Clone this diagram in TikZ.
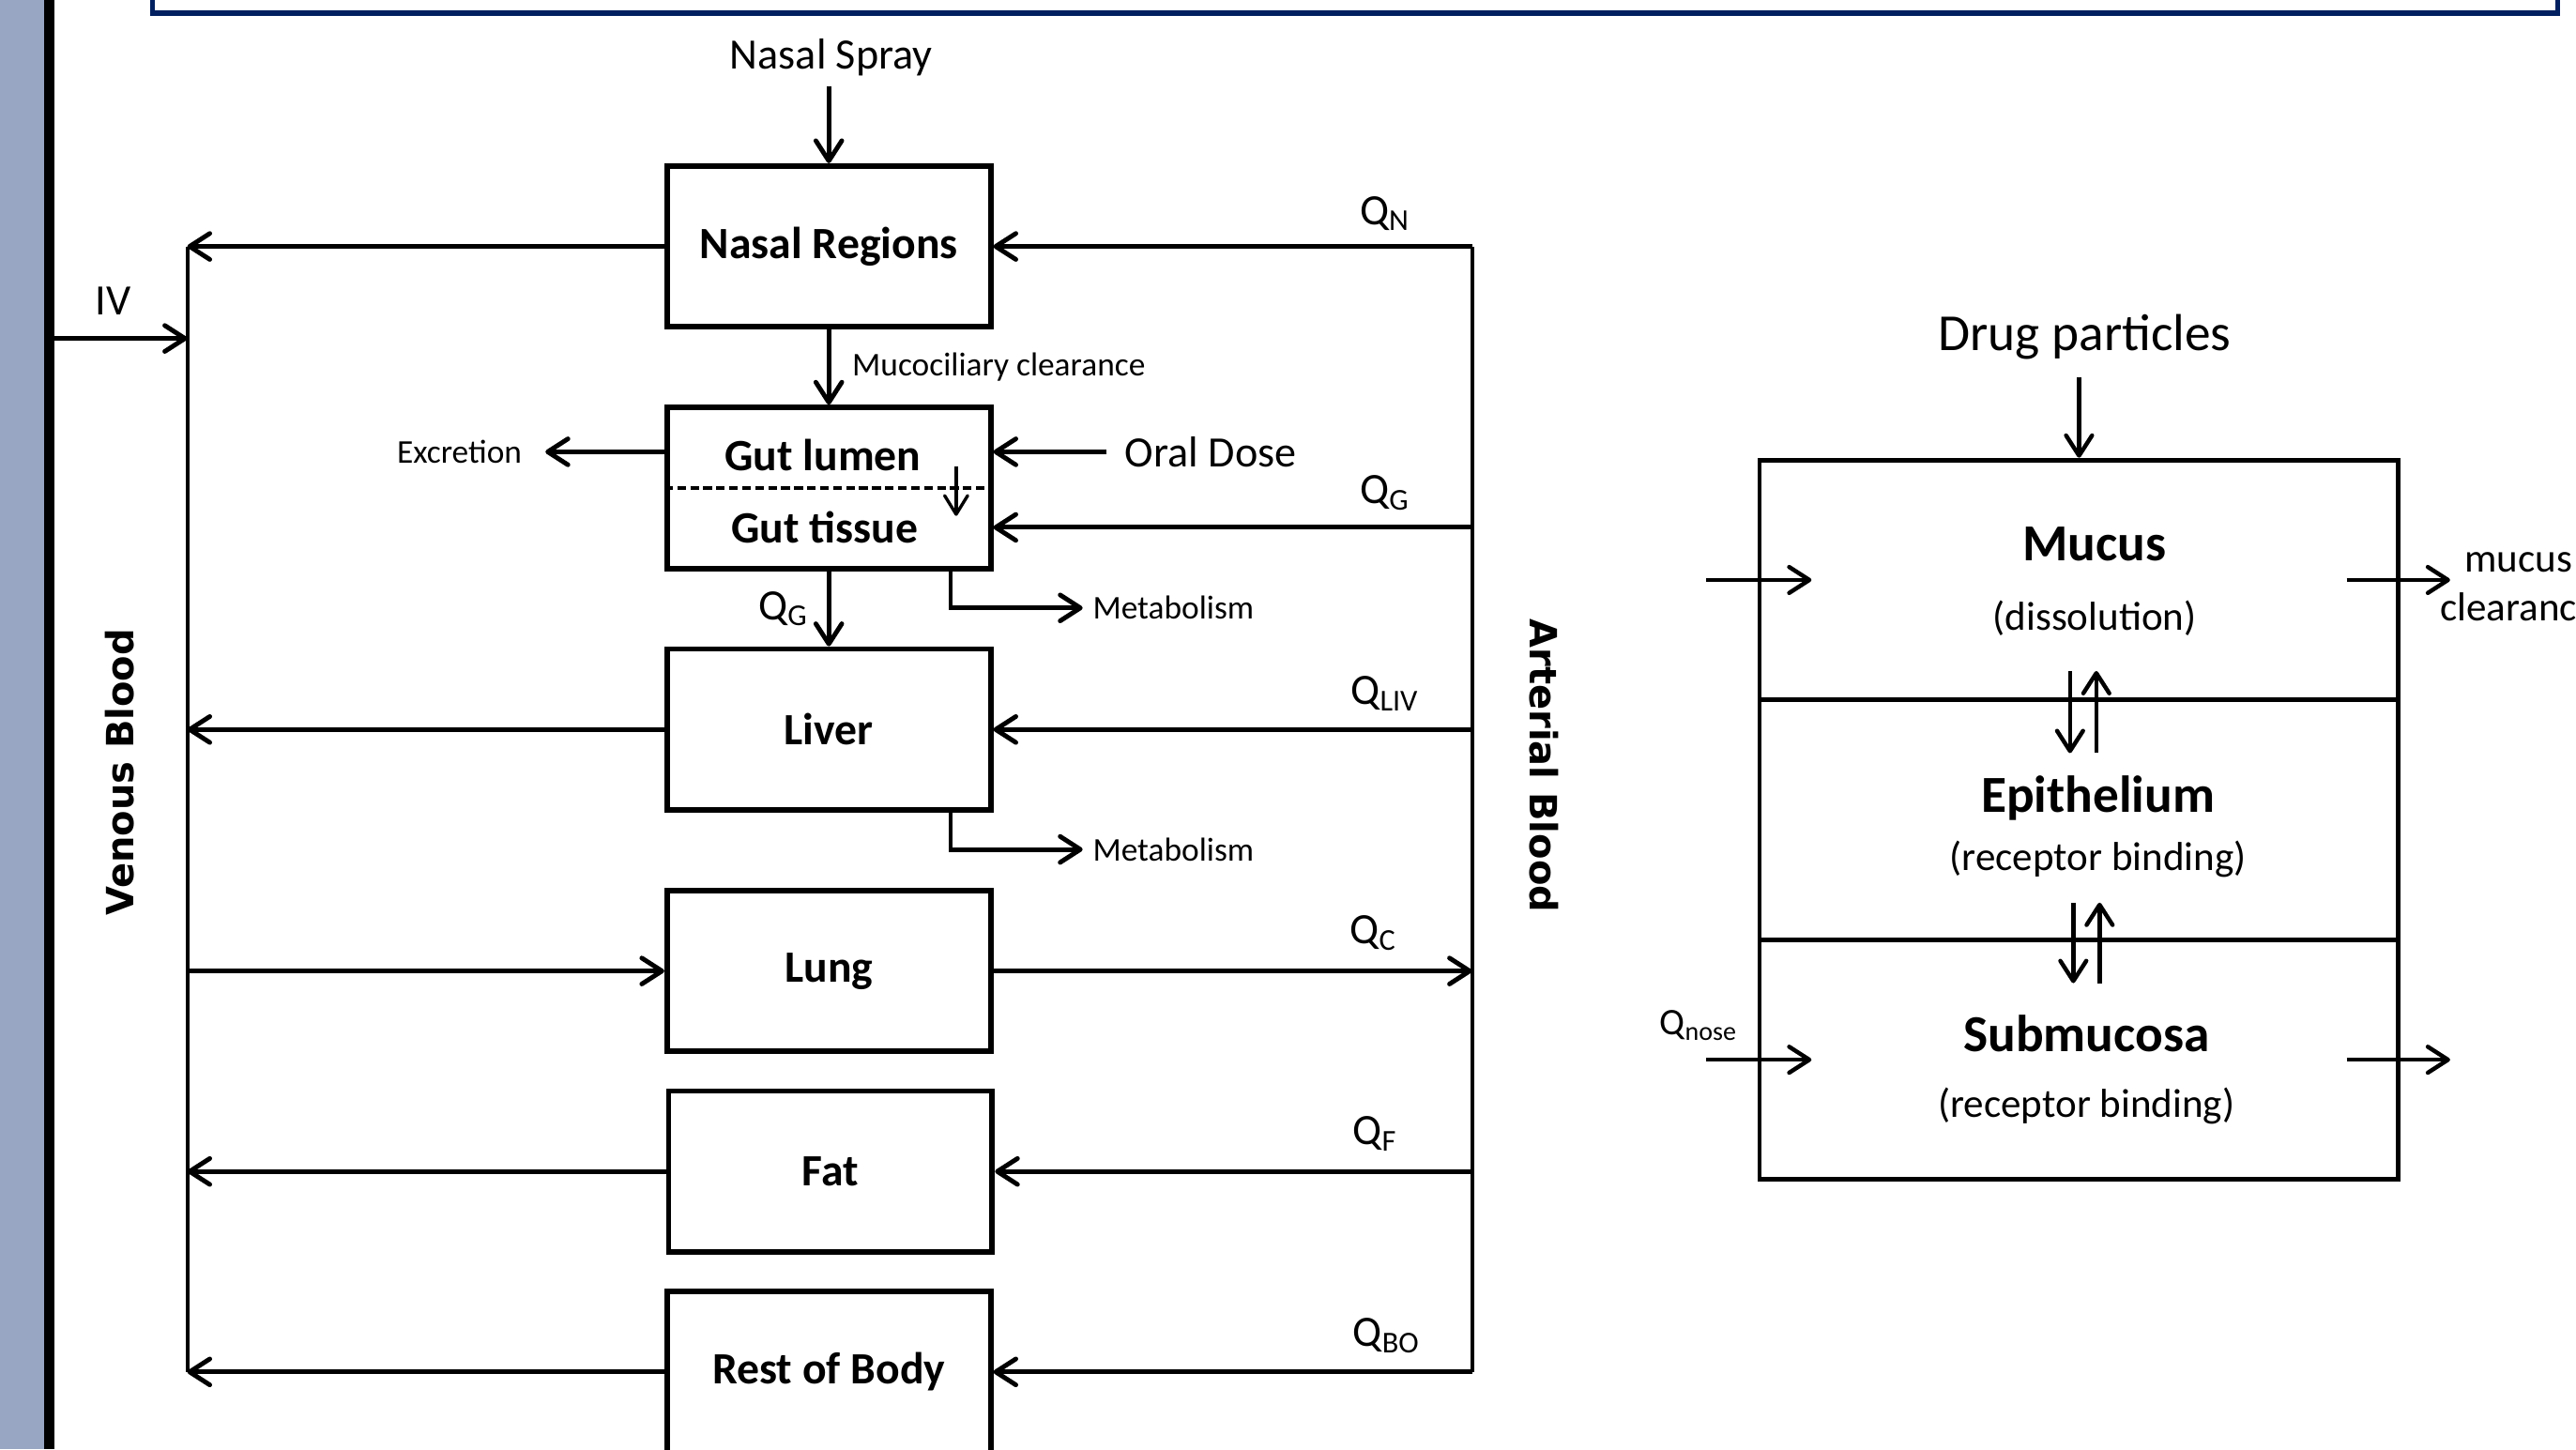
\documentclass[tikz,border=0pt]{standalone}
\usepackage{fontspec}
\setmainfont{Carlito}
\newfontfamily\bloodfont{DejaVu Sans}
\usetikzlibrary{arrows.meta}
\definecolor{barblue}{RGB}{152,166,196}
\definecolor{framenavy}{RGB}{0,32,96}
\tikzset{
	organ/.style={draw, line width=1.9pt, minimum width=3.94cm, minimum height=1.96cm, font=\fontsize{15.5}{18}\selectfont\bfseries},
	boxtext/.style={font=\fontsize{15.5}{18}\selectfont\bfseries},
	layer/.style={draw, line width=1.6pt, minimum width=7.78cm, minimum height=2.92cm},
	layertext/.style={align=center, font=\fontsize{14}{24}\selectfont},
	flow/.style={line width=1.6pt, -{Straight Barb[length=7pt,width=9pt,round]}},
	thinflow/.style={line width=1.1pt, -{Straight Barb[length=6.5pt,width=8pt,round]}},
	flowright/.style={line width=1.45pt, -{Straight Barb[length=7pt,width=9pt,round]}},
	small/.style={font=\fontsize{11.5}{14}\selectfont},
	big/.style={font=\fontsize{15}{18}\selectfont},
	blood/.style={font=\bloodfont\bfseries\fontsize{13}{16}\selectfont}
}
\begin{document}
\begin{tikzpicture}[x=0.02cm, y=-0.02cm]
	\useasboundingbox (0,0) rectangle (1568,882);
	\fill[barblue] (0,0) rectangle (27,882);
	\fill[black] (27,0) rectangle (33,882);
	\draw[framenavy, line width=1.7pt] (93,-40) rectangle (1557,8);

	\foreach \name/\lab/\x/\y in {nasal/Nasal Regions/504.5/150, gut//504.5/297, liver/Liver/504.5/444, lung/Lung/504.5/591, fat/Fat/505.5/713, rest/Rest of Body/504.5/835}
	{
		\node[organ](\name) at (\x,\y){\lab};
	}
	\coordinate (ven) at (114,150);
	\coordinate (venend) at (114,835);
	\coordinate (art) at (896,150);
	\coordinate (artend) at (896,835);
	\draw[line width=1.3pt] (ven) -- (venend);
	\draw[line width=1.3pt] (art) -- (artend);
	\node[blood, rotate=90](venous) at (73,470){Venous Blood};
	\node[blood, rotate=-90](arterial) at (940,466){Arterial Blood};

	\foreach \name in {nasal, liver, fat, rest}
	{
		\draw[flow] (\name.west) -- (\name.west -| ven);
		\draw[flow] (\name.east -| art) -- (\name.east);
	}
	\draw[flow] (lung.west -| ven) -- (lung.west);
	\draw[flow] (lung.east) -- (lung.east -| art);
	\foreach \sub/\x/\y in {N/843/130, G/843/300, LIV/843/422, C/836/568, F/837/690, BO/844/813}
	{
		\node[big](q\sub) at (\x,\y){Q\textsubscript{\sub}};
	}

	\coordinate (ivstart) at (33,206);
	\draw[flow] (ivstart) -- (ivstart -| ven);
	\node[big](iv) at (69,183){IV};
	\node[big](spray) at (506,35){Nasal Spray};
	\draw[flow] (spray.south -| nasal) -- (nasal.north);
	\draw[flow] (nasal.south) -- node[small, right, xshift=4pt](mucociliary){Mucociliary clearance} (gut.north);

	\node[boxtext](lumen) at (501,277){Gut lumen};
	\node[boxtext](tissue) at (502,321){Gut tissue};
	\draw[line width=1.2pt, dash pattern=on 3pt off 1.5pt] (gut.west) -- (gut.east);
	\coordinate (absorbA) at (582,284);
	\coordinate (absorbB) at (582,314);
	\draw[thinflow] (absorbA) -- (absorbB);
	\node[small, anchor=east, inner xsep=8pt](excretion) at (332,275){Excretion};
	\draw[flow] (gut.west |- excretion) -- (excretion.east);
	\node[big](oral) at (737,275){Oral Dose};
	\draw[flow] ([xshift=-0.1cm]oral.west) -- (gut.east |- oral);
	\draw[flow] (art |- tissue) -- (gut.east |- tissue);
	\draw[flow] (gut.south) -- node[big, left, xshift=-3pt](qgut){Q\textsubscript{G}} (liver.north);
	\node[small, anchor=west](metgut) at (659,370){Metabolism};
	\draw[flow] ([xshift=-0.52cm]gut.south east) |- (metgut.west);
	\node[small, anchor=west](metliver) at (659,517){Metabolism};
	\draw[flow] ([xshift=-0.52cm]liver.south east) |- (metliver.west);

	\node[layer](mucus) at (1265.5,353){};
	\node[layer](epi) at (1265.5,499){};
	\node[layer](sub) at (1265.5,645){};
	\node[layertext](mucustext) at (1275,354){{\fontsize{18}{24}\selectfont\bfseries Mucus}\\(dissolution)};
	\node[layertext](epitext) at (1277,503){{\fontsize{18}{24}\selectfont\bfseries Epithelium}\\[-4pt](receptor binding)};
	\node[layertext](subtext) at (1270,651){{\fontsize{18}{24}\selectfont\bfseries Submucosa}\\[-1pt](receptor binding)};
	\node[font=\fontsize{18}{22}\selectfont](drug) at (1269,205){Drug particles};
	\draw[flowright] ([yshift=-0.1cm]drug.south -| mucus) -- (mucus.north);
	\foreach \lay in {mucus, sub}
	{
		\draw[flowright] ([xshift=-0.62cm]\lay.west) -- ([xshift=0.66cm]\lay.west);
		\draw[flowright] ([xshift=-0.66cm]\lay.east) -- ([xshift=0.6cm]\lay.east);
	}
	\foreach \lay/\dn/\up/\ya/\yb in {mucus/-0.11/0.21/0.38/-0.62, epi/-0.07/0.25/0.48/-0.5}
	{
		\draw[flowright] ([shift={(\dn cm,\ya cm)}]\lay.south) -- ([shift={(\dn cm,\yb cm)}]\lay.south);
		\draw[flowright] ([shift={(\up cm,\yb cm)}]\lay.south) -- ([shift={(\up cm,\ya cm)}]\lay.south);
	}
	\node[font=\fontsize{14}{17}\selectfont, align=center](clearance) at (1533,357){mucus\\clearance};
	\node[font=\fontsize{13}{16}\selectfont](qnose) at (1034,624){Q\textsubscript{nose}};
\end{tikzpicture}
\end{document}
